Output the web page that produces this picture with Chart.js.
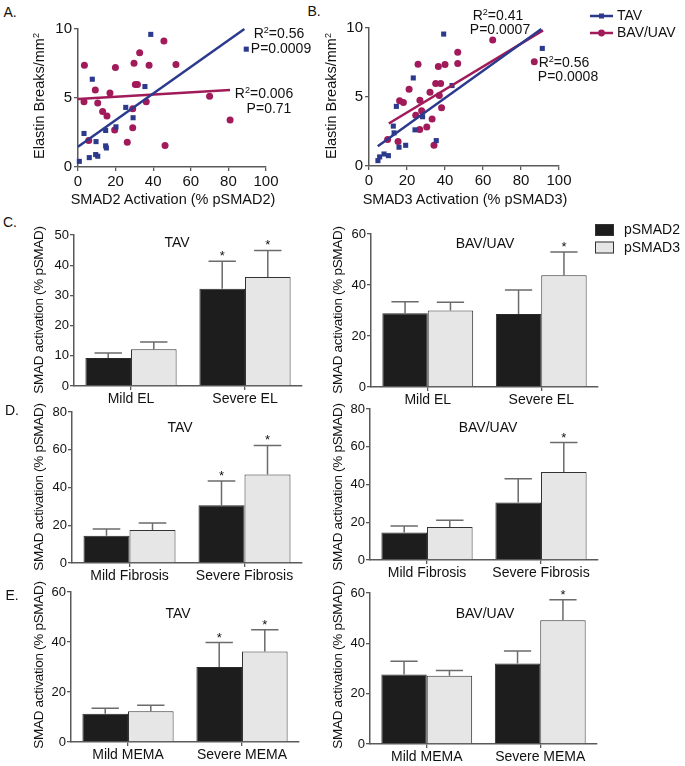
<!DOCTYPE html>
<html>
<head>
<meta charset="utf-8">
<script src="https://cdn.jsdelivr.net/npm/chart.js@4.4.1/dist/chart.umd.min.js"></script>
<style>
  body { margin: 0; background: #fff; }
  #fig { position: relative; width: 685px; height: 766px; overflow: hidden; font-family: 'Liberation Sans', Arial, sans-serif; color: #111; }
  canvas { position: absolute; }
  .t { position: absolute; white-space: nowrap; transform: translate(-50%, -50%); font-size: 14px; line-height: 1; }
  .t sup { font-size: 9px; vertical-align: 5px; line-height: 0; }
  .rot { transform: translate(-50%, -50%) rotate(-90deg); }
</style>
</head>
<body>
<div id="fig"></div>
<script>
// Panel A / B: elastin breaks vs SMAD activation
const tavSmad2 = [0.7, 3.2, 7.6, 6.0, 9.4, 10.5, 9.6, 14.7, 15.1, 14.7, 20.2, 25.4, 29.3, 35.6, 38.7, 89.5];
const tavBreaksA = [0.41, 2.43, 6.36, 0.68, 0.9, 0.78, 1.84, 1.53, 1.38, 2.65, 2.91, 4.32, 3.57, 5.83, 9.61, 8.54];
const bavSmad2 = [3.4, 3.2, 5.7, 9.2, 10.5, 13.1, 15.4, 17.0, 19.9, 19.5, 26.2, 29.1, 29.1, 29.8, 30.5, 31.6, 32.8, 37.8, 36.3, 45.7, 46.3, 52.1, 70.0, 80.9];
const bavBreaksA = [7.38, 4.73, 1.92, 5.58, 4.64, 4.03, 3.69, 5.36, 7.21, 2.69, 1.8, 2.84, 4.22, 7.52, 5.97, 5.97, 8.28, 7.38, 4.73, 9.13, 1.55, 7.43, 5.12, 3.4];

const tavSmad3 = [4.7, 5.6, 7.9, 10.2, 12.8, 13.2, 14.4, 15.8, 19.3, 23.3, 24.2, 28.2, 35.4, 39.3, 43.7, 91.2];
const tavBreaksB = [0.39, 0.66, 0.87, 0.75, 2.89, 2.4, 4.32, 1.36, 1.5, 6.38, 2.62, 3.57, 1.84, 9.56, 5.83, 8.52];
const bavSmad3 = [9.8, 15.3, 16.1, 18.1, 21.1, 25.8, 24.6, 26.7, 26.8, 27.7, 30.4, 32.1, 33.2, 34.2, 35.1, 36.5, 37.0, 37.7, 38.2, 40.0, 46.7, 46.7, 65.1, 87.0];
const bavBreaksB = [1.92, 1.77, 4.73, 4.61, 5.56, 7.38, 3.67, 2.65, 4.76, 4.0, 2.82, 5.34, 3.4, 1.5, 5.97, 7.21, 5.1, 5.97, 4.22, 7.35, 8.25, 7.43, 9.13, 7.55];

// regression lines (end points)
const tavFitAX = [0, 88.5], tavFitAY = [1.46, 10.0];
const bavFitAX = [0, 80.9], bavFitAY = [4.93, 5.58];
const tavFitBX = [4.6, 90.7], tavFitBY = [1.43, 9.93];
const bavFitBX = [10.4, 91.6], bavFitBY = [3.08, 9.83];

// Panels C-E: mean and SEM, [mild, severe]
const labelsEL = ['Mild EL', 'Severe EL'];
const labelsFib = ['Mild Fibrosis', 'Severe Fibrosis'];
const labelsMema = ['Mild MEMA', 'Severe MEMA'];

const elTavP2 = [9.3, 32.2], elTavP2Err = [1.6, 9.1], elTavP2Sig = [false, true];
const elTavP3 = [12.2, 36.1], elTavP3Err = [2.4, 8.8], elTavP3Sig = [false, true];
const elBavP2 = [28.9, 28.6], elBavP2Err = [4.5, 9.4], elBavP2Sig = [false, false];
const elBavP3 = [30.0, 43.8], elBavP3Err = [3.2, 9.1], elBavP3Sig = [false, true];

const fibTavP2 = [14.5, 30.6], fibTavP2Err = [3.5, 12.8], fibTavP2Sig = [false, true];
const fibTavP3 = [17.5, 46.9], fibTavP3Err = [3.7, 15.4], fibTavP3Sig = [false, true];
const fibBavP2 = [14.6, 30.5], fibBavP2Err = [3.4, 12.5], fibBavP2Sig = [false, false];
const fibBavP3 = [17.5, 46.6], fibBavP3Err = [3.5, 15.6], fibBavP3Sig = [false, true];

const memaTavP2 = [11.3, 30.0], memaTavP2Err = [2.2, 9.8], memaTavP2Sig = [false, true];
const memaTavP3 = [12.3, 36.2], memaTavP3Err = [2.4, 8.7], memaTavP3Sig = [false, true];
const memaBavP2 = [27.6, 32.0], memaBavP2Err = [5.3, 5.0], memaBavP2Sig = [false, false];
const memaBavP3 = [27.1, 49.2], memaBavP3Err = [2.1, 8.1], memaBavP3Sig = [false, true];

const BLUE = '#2c3a8e';
const RED = '#a11a5a';
const AXIS = '#5a5a5a';
const FONT = "'Liberation Sans', Arial, sans-serif";

const fig = document.getElementById('fig');

function zip(xs, ys) {
  return xs.map((x, i) => ({ x: x, y: ys[i] }));
}

// put a text label, centred on (cx, cy)
function addText(html, cx, cy, opts) {
  opts = opts || {};
  const d = document.createElement('div');
  d.className = 't' + (opts.rot ? ' rot' : '');
  d.innerHTML = html;
  d.style.left = cx + 'px';
  d.style.top = cy + 'px';
  if (opts.size) d.style.fontSize = opts.size + 'px';
  if (opts.ls) d.style.letterSpacing = opts.ls + 'px';
  fig.appendChild(d);
}

// canvas placed so that the chart area lands on area = [x0, x1, yTop, yBottom]
function makeCanvas(area, pad) {
  const x0 = Math.round(area[0]), x1 = Math.round(area[1]);
  const y0 = Math.round(area[2]), y1 = Math.round(area[3]);
  const c = document.createElement('canvas');
  c.width = x1 - x0 + pad.l + pad.r;
  c.height = y1 - y0 + pad.t + pad.b;
  c.style.left = (x0 - pad.l) + 'px';
  c.style.top = (y0 - pad.t) + 'px';
  c.style.width = c.width + 'px';
  c.style.height = c.height + 'px';
  fig.appendChild(c);
  return { canvas: c, left: x0 - pad.l, top: y0 - pad.t };
}

function axisOpts(pad, horizontal, extra, fontSize) {
  return Object.assign({
    grid: { display: true, drawOnChartArea: false, drawTicks: true, tickLength: 4, color: AXIS, lineWidth: 1.3, offset: false },
    border: { display: true, color: AXIS, width: 1.5 },
    ticks: { color: '#111', padding: 1, font: { family: FONT, size: fontSize } },
    afterFit: function (s) {
      if (horizontal) s.height = pad.b; else s.width = pad.l;
    }
  }, extra);
}

// error bars + significance stars for the bar panels
const errorBars = {
  id: 'errorBars',
  afterDatasetsDraw(chart) {
    const ctx = chart.ctx;
    const yScale = chart.scales.y;
    chart.data.datasets.forEach((ds, i) => {
      const meta = chart.getDatasetMeta(i);
      meta.data.forEach((bar, j) => {
        const top = yScale.getPixelForValue(ds.data[j] + ds.err[j]);
        const half = bar.width * 0.3;
        ctx.save();
        ctx.strokeStyle = '#6b6b6b';
        ctx.lineWidth = 1.5;
        ctx.beginPath();
        ctx.moveTo(bar.x, bar.y);
        ctx.lineTo(bar.x, top);
        ctx.moveTo(bar.x - half, top);
        ctx.lineTo(bar.x + half, top);
        ctx.stroke();
        if (ds.sig[j]) {
          ctx.fillStyle = '#111';
          ctx.font = '13px ' + FONT;
          ctx.textAlign = 'center';
          ctx.textBaseline = 'alphabetic';
          ctx.fillText('*', bar.x, top - 1);
        }
        ctx.restore();
      });
    });
  }
};

function barChart(area, labels, p2, p2Err, p2Sig, p3, p3Err, p3Sig, yMax, step, legendAt) {
  const pad = { l: 40, r: legendAt ? 100 : 12, t: 12, b: 26 };
  const c = makeCanvas(area, pad);
  const plugins = [errorBars];
  if (legendAt) {
    plugins.push({
      id: 'barLegend',
      afterDraw(chart) {
        const ctx = chart.ctx;
        chart.data.datasets.forEach((ds, i) => {
          const x = legendAt[0] - c.left;
          const y = legendAt[1] - c.top + i * 17.5;
          ctx.save();
          ctx.fillStyle = ds.backgroundColor;
          ctx.strokeStyle = '#333';
          ctx.lineWidth = 1;
          ctx.fillRect(x, y - 6, 19, 12);
          ctx.strokeRect(x + 0.5, y - 5.5, 18, 11);
          ctx.fillStyle = '#111';
          ctx.font = '14px ' + FONT;
          ctx.textBaseline = 'middle';
          ctx.fillText(ds.label, x + 29, y + 0.5);
          ctx.restore();
        });
      }
    });
  }
  new Chart(c.canvas, {
    type: 'bar',
    data: {
      labels: labels,
      datasets: [
        { label: 'pSMAD2', data: p2, err: p2Err, sig: p2Sig, backgroundColor: '#1d1d1d', borderColor: '#2a2a2a', borderWidth: 1 },
        { label: 'pSMAD3', data: p3, err: p3Err, sig: p3Sig, backgroundColor: '#e6e6e6', borderColor: '#333333', borderWidth: 1 }
      ]
    },
    options: {
      responsive: false,
      animation: false,
      layout: { padding: { top: pad.t, right: pad.r, left: 0, bottom: 0 } },
      datasets: { bar: { categoryPercentage: 0.8, barPercentage: 1.0 } },
      plugins: { legend: { display: false }, tooltip: { enabled: false } },
      scales: {
        x: axisOpts(pad, true, {}, 14),
        y: axisOpts(pad, false, { min: 0, max: yMax, ticks: { stepSize: step, color: '#111', padding: 1, font: { family: FONT, size: 13 } } }, 13)
      }
    },
    plugins: plugins
  });
}

function scatterChart(area, tX, tY, bX, bY, tfX, tfY, bfX, bfY, withLegend) {
  const pad = { l: 40, r: withLegend ? 128 : 22, t: withLegend ? 28 : 12, b: 26 };
  const c = makeCanvas(area, pad);
  const plugins = [];
  if (withLegend) {
    plugins.push({
      id: 'lineLegend',
      afterDraw(chart) {
        const ctx = chart.ctx;
        [[BLUE, 'TAV', 'rect'], [RED, 'BAV/UAV', 'circle']].forEach((item, i) => {
          const x = 590 - c.left;
          const y = 16 - c.top + i * 17;
          ctx.save();
          ctx.strokeStyle = item[0];
          ctx.fillStyle = item[0];
          ctx.lineWidth = 2.5;
          ctx.beginPath();
          ctx.moveTo(x, y);
          ctx.lineTo(x + 23, y);
          ctx.stroke();
          if (item[2] === 'rect') ctx.fillRect(x + 9, y - 2.5, 5, 5);
          else { ctx.beginPath(); ctx.arc(x + 11.5, y, 3.4, 0, Math.PI * 2); ctx.fill(); }
          ctx.fillStyle = '#111';
          ctx.font = '14px ' + FONT;
          ctx.textBaseline = 'middle';
          ctx.fillText(item[1], x + 27, y + 0.5);
          ctx.restore();
        });
      }
    });
  }
  new Chart(c.canvas, {
    type: 'scatter',
    data: {
      datasets: [
        { label: 'TAV fit', data: zip(tfX, tfY), showLine: true, borderColor: BLUE, borderWidth: 2.5, pointRadius: 0, clip: false },
        { label: 'BAV/UAV fit', data: zip(bfX, bfY), showLine: true, borderColor: RED, borderWidth: 2.5, pointRadius: 0, clip: false },
        { label: 'TAV', data: zip(tX, tY), pointStyle: 'rect', pointRadius: 3.6, backgroundColor: BLUE, borderWidth: 0, clip: false },
        { label: 'BAV/UAV', data: zip(bX, bY), pointStyle: 'circle', pointRadius: 3.5, backgroundColor: RED, borderWidth: 0, clip: false }
      ]
    },
    options: {
      responsive: false,
      animation: false,
      layout: { padding: { top: pad.t, right: pad.r, left: 0, bottom: 0 } },
      plugins: { legend: { display: false }, tooltip: { enabled: false } },
      scales: {
        x: axisOpts(pad, true, { type: 'linear', min: 0, max: 100, ticks: { stepSize: 20, color: '#111', padding: 2, font: { family: FONT, size: 15 } } }, 15),
        y: axisOpts(pad, false, { min: 0, max: 10, ticks: { stepSize: 5, color: '#111', padding: 2, font: { family: FONT, size: 15 } } }, 15)
      }
    },
    plugins: plugins
  });
}

// top row
scatterChart([77.7, 265.7, 29.3, 166.7], tavSmad2, tavBreaksA, bavSmad2, bavBreaksA, tavFitAX, tavFitAY, bavFitAX, bavFitAY, false);
scatterChart([369.3, 559.3, 28.3, 165.7], tavSmad3, tavBreaksB, bavSmad3, bavBreaksB, tavFitBX, tavFitBY, bavFitBX, bavFitBY, true);

// bar panels
barChart([74.3, 302, 235, 385.5], labelsEL, elTavP2, elTavP2Err, elTavP2Sig, elTavP3, elTavP3Err, elTavP3Sig, 50, 10, null);
barChart([370.7, 598, 234.3, 386.5], labelsEL, elBavP2, elBavP2Err, elBavP2Sig, elBavP3, elBavP3Err, elBavP3Sig, 60, 20, [595, 230]);
barChart([72.3, 302, 412.3, 562.7], labelsFib, fibTavP2, fibTavP2Err, fibTavP2Sig, fibTavP3, fibTavP3Err, fibTavP3Sig, 80, 20, null);
barChart([370, 598, 409, 560.3], labelsFib, fibBavP2, fibBavP2Err, fibBavP2Sig, fibBavP3, fibBavP3Err, fibBavP3Sig, 80, 20, null);
barChart([70.7, 299, 591.7, 742.3], labelsMema, memaTavP2, memaTavP2Err, memaTavP2Sig, memaTavP3, memaTavP3Err, memaTavP3Sig, 60, 20, null);
barChart([370, 597, 593.3, 743.7], labelsMema, memaBavP2, memaBavP2Err, memaBavP2Sig, memaBavP3, memaBavP3Err, memaBavP3Sig, 60, 20, null);

// panel letters
addText('A.', 10, 12);
addText('B.', 314, 11);
addText('C.', 10, 222);
addText('D.', 12, 410);
addText('E.', 12, 595);

// scatter titles and stats
addText('Elastin Breaks/mm<sup>2</sup>', 39, 96, { rot: true, size: 14.5 });
addText('Elastin Breaks/mm<sup>2</sup>', 331, 96, { rot: true, size: 14.5 });
addText('SMAD2 Activation (% pSMAD2)', 173, 199, { size: 14.5 });
addText('SMAD3 Activation (% pSMAD3)', 465, 199, { size: 14.5 });
addText('R<sup>2</sup>=0.56', 279, 33);
addText('P=0.0009', 281, 48);
addText('R<sup>2</sup>=0.006', 264, 93);
addText('P=0.71', 269, 108);
addText('R<sup>2</sup>=0.41', 498, 15);
addText('P=0.0007', 500, 29);
addText('R<sup>2</sup>=0.56', 564, 62);
addText('P=0.0008', 568, 76);

// bar panel titles
addText('TAV', 177, 242);
addText('BAV/UAV', 485, 243);
addText('TAV', 180, 427);
addText('BAV/UAV', 488, 427);
addText('TAV', 178, 613);
addText('BAV/UAV', 485, 613);

const ytitle = 'SMAD activation (% pSMAD)';
[310, 487, 665].forEach(cy => {
  addText(ytitle, 39, cy, { rot: true, size: 13.5, ls: -0.3 });
  addText(ytitle, 338, cy, { rot: true, size: 13.5, ls: -0.3 });
});
</script>
</body>
</html>
